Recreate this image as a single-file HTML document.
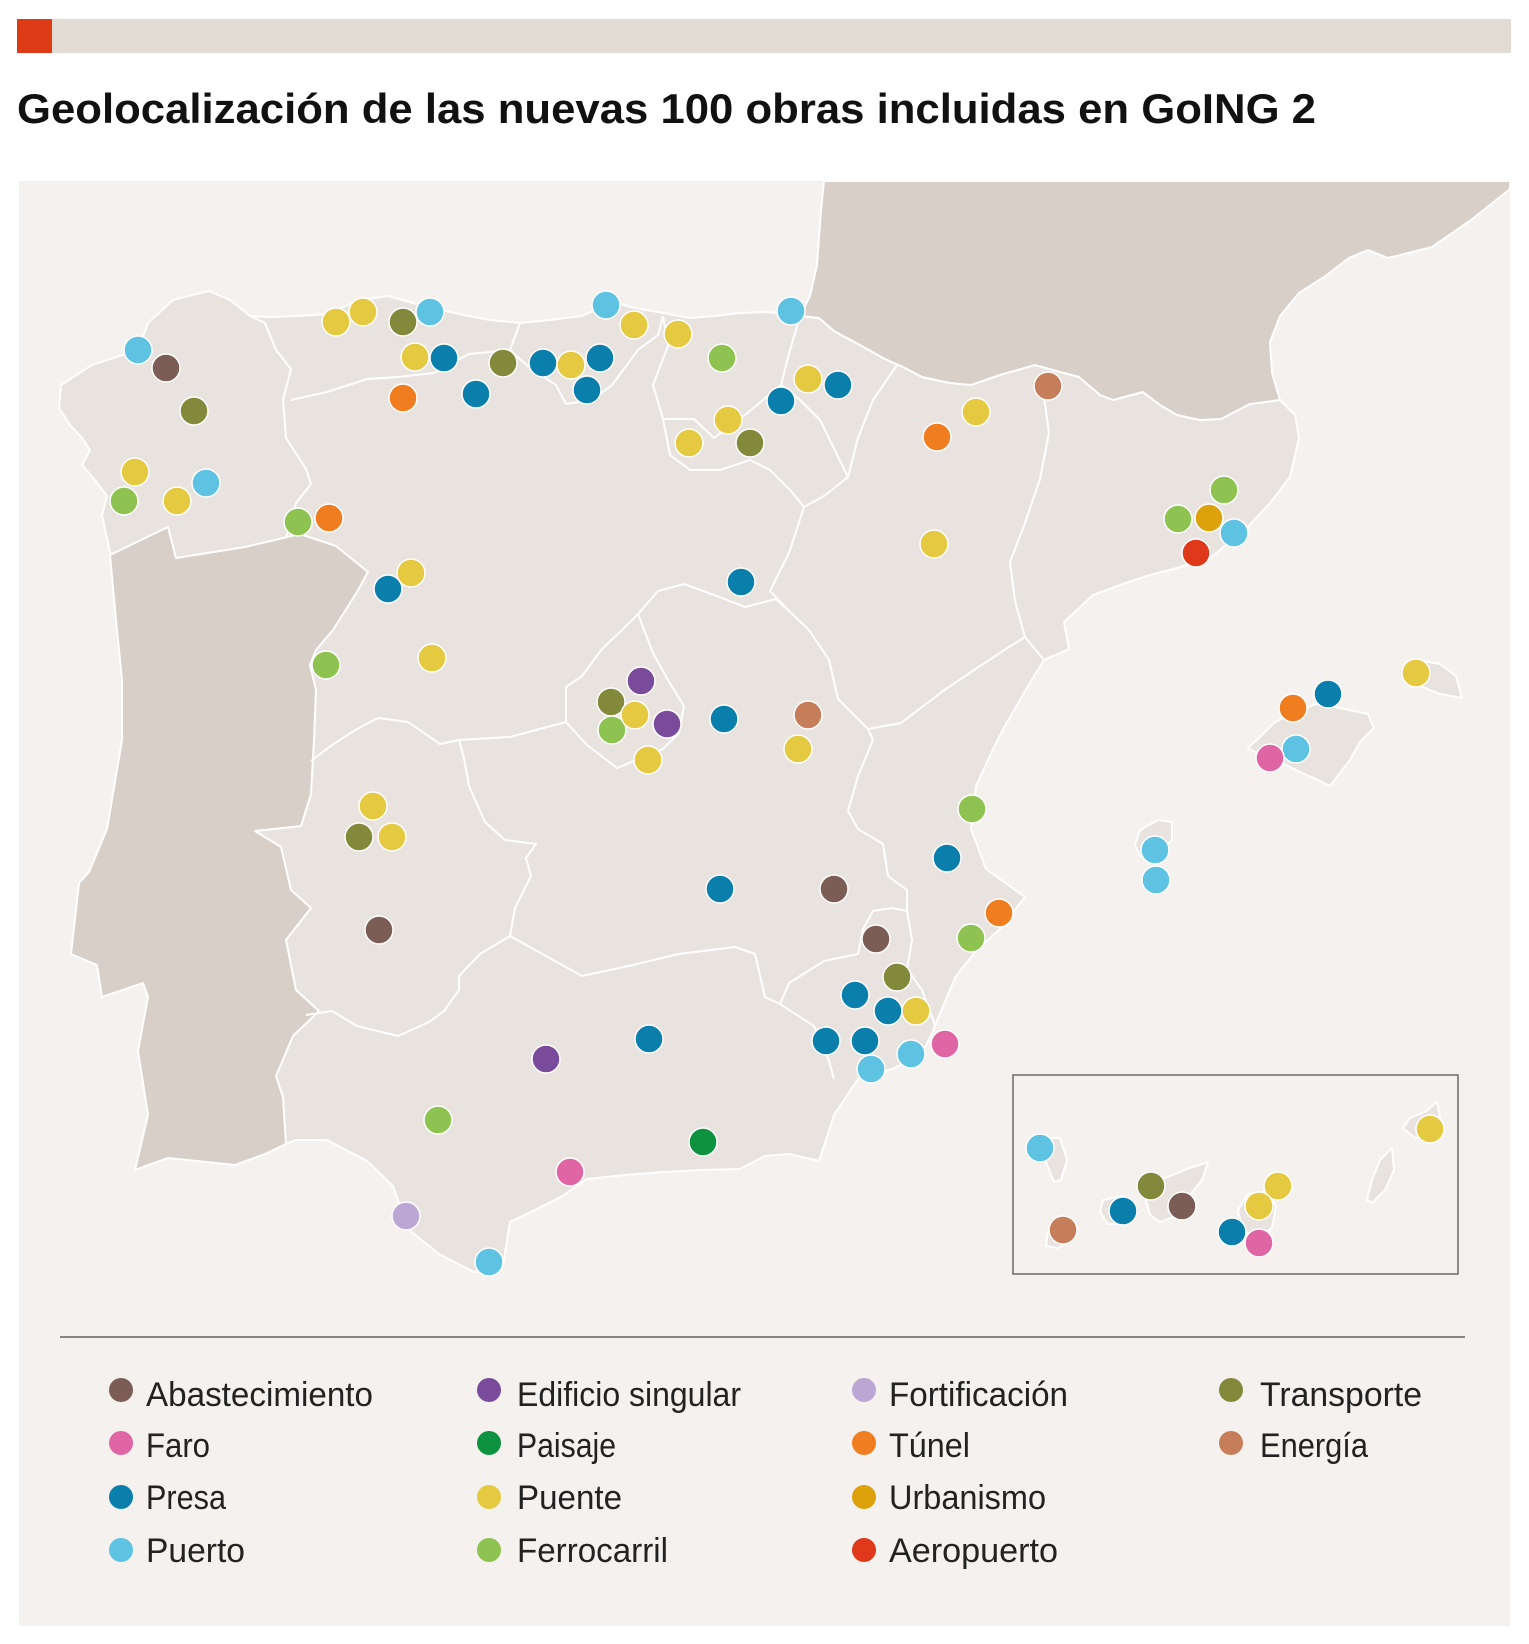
<!DOCTYPE html>
<html>
<head>
<meta charset="utf-8">
<style>
html,body{margin:0;padding:0;background:#ffffff;}
svg{display:block;}
text{font-family:"Liberation Sans",sans-serif;}
</style>
</head>
<body>
<svg xmlns="http://www.w3.org/2000/svg" width="1529" height="1644" viewBox="0 0 1529 1644">
<rect x="0" y="0" width="1529" height="1644" fill="#ffffff"/>
<!-- top bar -->
<rect x="17" y="19" width="1494" height="34" fill="#e1dbd3"/>
<rect x="17" y="19" width="35" height="34" fill="#dc3b16"/>
<!-- title -->
<text x="17" y="123" font-size="42" font-weight="bold" fill="#111111" textLength="1299" lengthAdjust="spacingAndGlyphs">Geolocalización de las nuevas 100 obras incluidas en GoING 2</text>

<!-- panel -->
<rect x="19" y="181" width="1491" height="1445" fill="#f4f1ee"/>

<!-- Spain -->
<path fill="#e8e3df" stroke="#ffffff" stroke-width="2" stroke-linejoin="round" d="M61,385 L92,365 L138,350 L148,323 L173,300 L209,291 L230,300 L250,316 L270,317 L300,316 L327,314 L360,300 L388,296 L420,305 L459,314 L490,320 L520,323 L550,320 L582,316 L612,302 L635,308 L658,312 L690,318 L714,316 L740,313 L765,312 L790,314 L800,316 L819,318 L834,331 L860,345 L883,358 L905,368 L922,377 L950,383 L971,385 L1000,375 L1035,365 L1060,372 L1079,377 L1100,395 L1113,400 L1143,392 L1160,405 L1177,415 L1200,420 L1221,419 L1250,404 L1280,400 L1295,415 L1299,438 L1290,477 L1270,503 L1245,530 L1211,557 L1177,568 L1150,575 L1123,584 L1093,595 L1064,622 L1069,649 L1044,660 L1025,691 L1005,726 L995,745 L976,786 L971,829 L986,869 L1025,897 L1000,929 L976,951 L956,976 L941,1011 L932,1033 L922,1054 L892,1069 L858,1079 L834,1115 L819,1161 L789,1154 L765,1156 L740,1169 L700,1170 L663,1172 L625,1175 L587,1179 L561,1197 L535,1210 L510,1222 L503,1265 L474,1272 L439,1254 L408,1229 L393,1186 L367,1161 L327,1140 L296,1140 L286,1144 L250,1100 L200,800 L130,560 L110,553 L102,515 L107,496 L95,480 L82,465 L90,450 L82,438 L70,425 L59,408 Z"/>

<!-- Portugal -->
<path fill="#d7cfc8" stroke="#ffffff" stroke-width="2" stroke-linejoin="round" d="M110,555 L168,527 L176,558 L245,547 L300,534 L336,546 L368,572 L357,592 L333,630 L316,650 L310,665 L316,690 L314,740 L311,794 L301,826 L255,831 L281,847 L291,890 L311,908 L286,940 L296,990 L319,1011 L293,1036 L276,1076 L283,1097 L286,1144 L265,1154 L235,1165 L168,1158 L135,1170 L148,1115 L138,1051 L148,997 L143,983 L102,997 L97,965 L71,954 L79,883 L89,872 L107,829 L122,740 L122,680 L116,620 Z"/>

<!-- France -->
<path fill="#d7cfc8" stroke="#ffffff" stroke-width="2" stroke-linejoin="round" d="M824,181 L821,210 L817,265 L810,296 L800,316 L819,318 L834,331 L860,345 L883,358 L905,368 L922,377 L950,383 L971,385 L1000,375 L1035,365 L1060,372 L1079,377 L1100,395 L1113,400 L1143,392 L1160,405 L1177,415 L1200,420 L1221,419 L1250,404 L1280,400 L1272,373 L1270,342 L1280,316 L1299,293 L1324,277 L1349,258 L1368,250 L1388,258 L1432,247 L1471,220 L1510,189 L1510,181 Z"/>

<!-- internal borders -->
<g fill="none" stroke="#ffffff" stroke-width="2" stroke-linejoin="round">
<polyline points="250,316 265,323 276,350 291,369 283,400 286,438 306,469 311,484 296,503 286,538"/>
<polyline points="291,400 327,392 367,379 398,377 434,373 469,354 510,350 520,323"/>
<polyline points="510,350 531,369 556,385 566,404 592,400 612,385 638,350 658,335 663,316"/>
<polyline points="663,316 668,346 653,385 663,419 694,419 714,438 745,415 781,385 790,350 800,316"/>
<polyline points="663,419 670,455 690,470 720,470 750,460 770,470 790,490 804,507"/>
<polyline points="897,365 873,400 858,438 848,477 824,496 804,507"/>
<polyline points="781,385 800,400 820,420 848,477"/>
<polyline points="804,507 789,553 770,591 789,611 809,630 829,660 838,699 868,729"/>
<polyline points="638,614 653,653 668,680 684,706 679,733 663,749 617,768 587,745 566,722 566,687 582,676 602,649 622,630 638,614"/>
<polyline points="638,614 658,591 684,584 714,595 745,607 776,599 789,611"/>
<polyline points="311,761 332,745 357,729 378,718 408,722 440,744 459,740 510,737 566,722"/>
<polyline points="459,740 464,758 469,786 485,822 505,840 536,844 526,858 531,876 515,908 510,936"/>
<polyline points="306,1015 332,1011 357,1026 398,1036 429,1022 444,1011 459,990 459,976 480,954 510,936"/>
<polyline points="510,936 582,976 633,965 679,954 735,947 755,954 765,997 780,1004"/>
<polyline points="780,1004 789,983 824,961 858,954"/>
<polyline points="780,1004 814,1026 829,1061 834,1079"/>
<polyline points="858,954 863,929 873,911 892,908 907,911"/>
<polyline points="907,911 912,940 907,969 922,990 935,1025"/>
<polyline points="868,729 873,740 858,776 848,811 858,829 883,844 888,876 907,890 907,911"/>
<polyline points="868,729 901,723 943,691 974,670 1006,649 1025,637 1044,660"/>
<polyline points="1044,397 1049,433 1040,479 1025,523 1010,562 1015,601 1025,637"/>
</g>

<!-- Balearics -->
<g fill="#e8e3df" stroke="#ffffff" stroke-width="2" stroke-linejoin="round">
<path d="M1248,748 L1262,735 L1275,722 L1300,710 L1316,704 L1340,708 L1368,714 L1374,728 L1360,742 L1350,760 L1330,786 L1318,780 L1300,772 L1280,762 L1262,756 Z"/>
<path d="M1404,668 L1418,660 L1440,664 L1456,676 L1462,698 L1440,694 L1420,686 Z"/>
<path d="M1135,845 L1140,830 L1158,820 L1172,822 L1172,840 L1160,852 L1140,856 Z"/>
<path d="M1145,882 L1160,876 L1168,886 L1155,894 Z"/>
</g>

<!-- Canarias box -->
<rect x="1013" y="1075" width="445" height="199" fill="none" stroke="#6b6b6b" stroke-width="1.5"/>
<g fill="#e8e3df" stroke="#ffffff" stroke-width="2" stroke-linejoin="round">
<path d="M1040,1138 L1060,1138 L1067,1160 L1061,1180 L1054,1182 L1046,1162 Z"/>
<path d="M1048,1232 L1068,1226 L1072,1240 L1058,1248 L1046,1246 Z"/>
<path d="M1103,1200 L1122,1196 L1134,1208 L1128,1224 L1108,1224 L1100,1212 Z"/>
<path d="M1146,1200 L1160,1180 L1190,1168 L1208,1162 L1202,1180 L1186,1200 L1176,1216 L1160,1222 L1150,1215 Z"/>
<path d="M1238,1210 L1248,1194 L1266,1192 L1276,1206 L1272,1228 L1258,1238 L1242,1230 Z"/>
<path d="M1367,1200 L1372,1180 L1380,1160 L1392,1148 L1394,1170 L1385,1190 L1372,1203 Z"/>
<path d="M1403,1128 L1410,1118 L1425,1112 L1437,1102 L1440,1118 L1435,1135 L1415,1138 Z"/>
</g>

<!-- dots -->
<g stroke="#ffffff" stroke-width="1.5">
<!-- Puerto -->
<g fill="#5ec2e3">
<circle cx="138" cy="350" r="14"/><circle cx="206" cy="483" r="14"/><circle cx="430" cy="312" r="14"/><circle cx="606" cy="305" r="14"/><circle cx="791" cy="311" r="14"/><circle cx="1296" cy="749" r="14"/><circle cx="1155" cy="850" r="14"/><circle cx="1156" cy="880" r="14"/><circle cx="871" cy="1069" r="14"/><circle cx="911" cy="1054" r="14"/><circle cx="489" cy="1262" r="14"/><circle cx="1040" cy="1148" r="14"/>
</g>
<!-- Presa -->
<g fill="#0a7fac">
<circle cx="444" cy="358" r="14"/><circle cx="476" cy="394" r="14"/><circle cx="543" cy="363" r="14"/><circle cx="600" cy="358" r="14"/><circle cx="587" cy="390" r="14"/><circle cx="781" cy="401" r="14"/><circle cx="838" cy="385" r="14"/><circle cx="388" cy="589" r="14"/><circle cx="741" cy="582" r="14"/><circle cx="724" cy="719" r="14"/><circle cx="720" cy="889" r="14"/><circle cx="947" cy="858" r="14"/><circle cx="855" cy="995" r="14"/><circle cx="888" cy="1011" r="14"/><circle cx="826" cy="1041" r="14"/><circle cx="865" cy="1041" r="14"/><circle cx="649" cy="1039" r="14"/><circle cx="1328" cy="694" r="14"/><circle cx="1123" cy="1211" r="14"/><circle cx="1232" cy="1232" r="14"/>
</g>
<!-- Transporte -->
<g fill="#82893a">
<circle cx="194" cy="411" r="14"/><circle cx="403" cy="322" r="14"/><circle cx="503" cy="363" r="14"/><circle cx="750" cy="443" r="14"/><circle cx="611" cy="702" r="14"/><circle cx="359" cy="837" r="14"/><circle cx="897" cy="977" r="14"/><circle cx="1151" cy="1186" r="14"/>
</g>
<!-- Ferrocarril -->
<g fill="#8ec351">
<circle cx="124" cy="501" r="14"/><circle cx="298" cy="522" r="14"/><circle cx="722" cy="358" r="14"/><circle cx="326" cy="665" r="14"/><circle cx="612" cy="730" r="14"/><circle cx="1224" cy="490" r="14"/><circle cx="1178" cy="519" r="14"/><circle cx="972" cy="809" r="14"/><circle cx="971" cy="938" r="14"/><circle cx="438" cy="1120" r="14"/>
</g>
<!-- Puente -->
<g fill="#e5c940">
<circle cx="336" cy="322" r="14"/><circle cx="363" cy="312" r="14"/><circle cx="415" cy="357" r="14"/><circle cx="571" cy="365" r="14"/><circle cx="634" cy="325" r="14"/><circle cx="678" cy="334" r="14"/><circle cx="728" cy="420" r="14"/><circle cx="689" cy="443" r="14"/><circle cx="808" cy="379" r="14"/><circle cx="976" cy="412" r="14"/><circle cx="934" cy="544" r="14"/><circle cx="411" cy="573" r="14"/><circle cx="432" cy="658" r="14"/><circle cx="635" cy="715" r="14"/><circle cx="648" cy="760" r="14"/><circle cx="798" cy="749" r="14"/><circle cx="373" cy="806" r="14"/><circle cx="392" cy="837" r="14"/><circle cx="916" cy="1011" r="14"/><circle cx="1416" cy="673" r="14"/><circle cx="135" cy="472" r="14"/><circle cx="177" cy="501" r="14"/><circle cx="1278" cy="1186" r="14"/><circle cx="1259" cy="1206" r="14"/><circle cx="1430" cy="1129" r="14"/>
</g>
<!-- Abastecimiento -->
<g fill="#7c5d55">
<circle cx="166" cy="368" r="14"/><circle cx="379" cy="930" r="14"/><circle cx="834" cy="889" r="14"/><circle cx="876" cy="939" r="14"/><circle cx="1182" cy="1206" r="14"/>
</g>
<!-- Energía -->
<g fill="#c67d59">
<circle cx="1048" cy="386" r="14"/><circle cx="808" cy="715" r="14"/><circle cx="1063" cy="1230" r="14"/>
</g>
<!-- Túnel -->
<g fill="#f07d1f">
<circle cx="329" cy="518" r="14"/><circle cx="403" cy="398" r="14"/><circle cx="937" cy="437" r="14"/><circle cx="1293" cy="708" r="14"/><circle cx="999" cy="913" r="14"/>
</g>
<!-- Edificio singular -->
<g fill="#7a4a9b">
<circle cx="641" cy="681" r="14"/><circle cx="667" cy="724" r="14"/><circle cx="546" cy="1059" r="14"/>
</g>
<!-- Faro -->
<g fill="#e065a5">
<circle cx="1270" cy="758" r="14"/><circle cx="945" cy="1044" r="14"/><circle cx="570" cy="1172" r="14"/><circle cx="1259" cy="1243" r="14"/>
</g>
<circle cx="703" cy="1142" r="14" fill="#0d9340"/>
<circle cx="406" cy="1216" r="14" fill="#bca6d4"/>
<circle cx="1209" cy="518" r="14" fill="#dca10b"/>
<circle cx="1234" cy="533" r="14" fill="#5ec2e3"/>
<circle cx="1196" cy="553" r="14" fill="#e0381b"/>
</g>

<!-- legend line -->
<rect x="60" y="1336" width="1405" height="2" fill="#8a837e"/>

<!-- legend -->
<g>
<circle cx="121" cy="1390" r="12" fill="#7c5d55"/>
<circle cx="121" cy="1443" r="12" fill="#e065a5"/>
<circle cx="121" cy="1497" r="12" fill="#0a7fac"/>
<circle cx="121" cy="1550" r="12" fill="#5ec2e3"/>
<circle cx="489" cy="1390" r="12" fill="#7a4a9b"/>
<circle cx="489" cy="1443" r="12" fill="#0d9340"/>
<circle cx="489" cy="1497" r="12" fill="#e5c940"/>
<circle cx="489" cy="1550" r="12" fill="#8ec351"/>
<circle cx="864" cy="1390" r="12" fill="#bca6d4"/>
<circle cx="864" cy="1443" r="12" fill="#f07d1f"/>
<circle cx="864" cy="1497" r="12" fill="#dca10b"/>
<circle cx="864" cy="1550" r="12" fill="#e0381b"/>
<circle cx="1231" cy="1390" r="12" fill="#82893a"/>
<circle cx="1231" cy="1443" r="12" fill="#c67d59"/>
</g>
<g font-size="34" fill="#222222">
<text x="146" y="1406" textLength="227" lengthAdjust="spacingAndGlyphs">Abastecimiento</text>
<text x="146" y="1457" textLength="64" lengthAdjust="spacingAndGlyphs">Faro</text>
<text x="146" y="1509" textLength="80" lengthAdjust="spacingAndGlyphs">Presa</text>
<text x="146" y="1562" textLength="99" lengthAdjust="spacingAndGlyphs">Puerto</text>
<text x="517" y="1406" textLength="224" lengthAdjust="spacingAndGlyphs">Edificio singular</text>
<text x="517" y="1457" textLength="99" lengthAdjust="spacingAndGlyphs">Paisaje</text>
<text x="517" y="1509" textLength="105" lengthAdjust="spacingAndGlyphs">Puente</text>
<text x="517" y="1562" textLength="151" lengthAdjust="spacingAndGlyphs">Ferrocarril</text>
<text x="889" y="1406" textLength="179" lengthAdjust="spacingAndGlyphs">Fortificación</text>
<text x="889" y="1457" textLength="81" lengthAdjust="spacingAndGlyphs">Túnel</text>
<text x="889" y="1509" textLength="157" lengthAdjust="spacingAndGlyphs">Urbanismo</text>
<text x="889" y="1562" textLength="169" lengthAdjust="spacingAndGlyphs">Aeropuerto</text>
<text x="1260" y="1406" textLength="162" lengthAdjust="spacingAndGlyphs">Transporte</text>
<text x="1260" y="1457" textLength="108" lengthAdjust="spacingAndGlyphs">Energía</text>
</g>
</svg>
</body>
</html>
